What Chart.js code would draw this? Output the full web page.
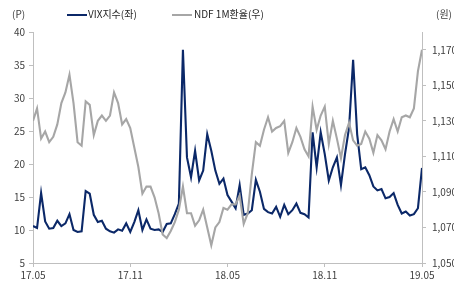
<!DOCTYPE html>
<html><head><meta charset="utf-8">
<script src="https://cdn.jsdelivr.net/npm/chart.js@4"></script>
<style>
html,body{margin:0;padding:0;background:#fff;}
#wrap{position:relative;width:454px;height:286px;font-family:"Noto Sans CJK KR","Noto Sans",sans-serif;color:#404040;}
canvas{position:absolute;left:0;top:0;}
.t{position:absolute;font-size:10px;line-height:12px;white-space:nowrap;}
.ln{position:absolute;height:2px;width:20px;}
</style></head><body>
<div id="wrap">
<canvas id="c" width="454" height="286"></canvas>
<div class="t" style="left:12px;top:8px;">(P)</div>
<div class="t" style="left:436px;top:8px;">(원)</div>
<div class="ln" style="left:67px;top:14px;background:#0b2868;"></div>
<div class="t" style="left:88px;top:8px;color:#262626;">VIX지수(좌)</div>
<div class="ln" style="left:172px;top:14px;background:#a6a6a6;"></div>
<div class="t" style="left:194px;top:8px;color:#262626;">NDF 1M환율(우)</div>
</div>
<script>
const tickLabels = ['17.05','17.11','18.05','18.11','19.05'];
const seriesNames = ['VIX지수(좌)','NDF 1M환율(우)'];
const vix = [10.6,10.3,15.6,11.3,10.2,10.3,11.4,10.6,11.0,12.4,10.0,9.7,9.8,15.9,15.5,12.3,11.2,11.4,10.2,9.8,
 9.6,10.1,9.9,11.0,9.7,11.2,13.0,10.0,11.6,10.2,10.0,10.1,9.7,10.9,11.0,12.4,14.0,37.3,21.0,18.0,
 22.0,17.5,19.0,24.5,22.0,19.0,17.0,17.8,15.3,14.3,13.3,16.8,12.3,12.5,13.0,17.6,15.8,13.2,12.7,12.5,
 13.5,12.0,13.8,12.4,13.0,14.0,12.6,12.4,11.9,24.8,19.5,24.8,21.5,17.5,19.5,21.0,16.8,21.5,25.5,35.8,
 24.5,19.2,19.5,18.3,16.6,16.0,16.2,14.8,15.0,15.6,13.8,12.5,12.8,12.2,12.4,13.3,19.4];
const ndf = [1130,1137,1120,1124,1118,1121,1128,1140,1146,1156,1140,1118,1116,1141,1139,1122,1130,1133,1130,1133,
 1146,1140,1128,1131,1126,1115,1104,1089,1093,1093,1087,1078,1066,1064,1068,1073,1080,1093,1078,1078,
 1071,1074,1080,1070,1060,1070,1073,1081,1080,1083,1083,1088,1072,1078,1100,1118,1116,1125,1132,1124,
 1126,1127,1130,1112,1118,1126,1121,1114,1110,1138,1125,1133,1138,1117,1130,1120,1109,1122,1129,1119,
 1116,1117,1124,1120,1112,1122,1119,1114,1124,1131,1124,1132,1133,1132,1137,1158,1170];
const tickPos = [0,24,48,72,96];
const leftTicks = [5,10,15,20,25,30,35,40];
const rightTicks = [1050,1070,1090,1110,1130,1150,1170];

const axisColor = '#bfbfbf';
const tickFont = {family:'"Noto Sans CJK KR","Noto Sans",sans-serif', size:10};
new Chart(document.getElementById('c'), {
  type:'line',
  data:{datasets:[
    {label:seriesNames[0], data:vix.map((v,i)=>({x:i,y:v})), yAxisID:'y', borderColor:'#0b2868', borderWidth:2.1, pointRadius:0, tension:0, order:1},
    {label:seriesNames[1], data:ndf.map((v,i)=>({x:i,y:v})), yAxisID:'y2', borderColor:'#a6a6a6', borderWidth:2.1, pointRadius:0, tension:0, order:0}
  ]},
  options:{
    responsive:false, animation:false,
    layout:{padding:{top:32,left:0,right:0,bottom:0}},
    plugins:{legend:{display:false}, tooltip:{enabled:false}},
    scales:{
      x:{type:'linear', min:0, max:96,
        afterBuildTicks:s=>{s.ticks=tickPos.map(v=>({value:v}));},
        afterFit:s=>{s.height=23;},
        ticks:{callback:(v)=>tickLabels[tickPos.indexOf(v)], color:'#404040', font:tickFont, padding:2, maxRotation:0, autoSkip:false},
        grid:{drawOnChartArea:false, drawTicks:true, tickLength:4, color:axisColor},
        border:{color:axisColor, width:1}},
      y:{position:'left', min:5, max:40,
        afterFit:s=>{s.width=33;},
        afterBuildTicks:s=>{s.ticks=leftTicks.map(v=>({value:v}));},
        ticks:{color:'#404040', font:tickFont, padding:4},
        grid:{drawOnChartArea:false, drawTicks:true, tickLength:4, color:axisColor},
        border:{color:axisColor, width:1}},
      y2:{position:'right', min:1050, max:1180,
        afterFit:s=>{s.width=32;},
        afterBuildTicks:s=>{s.ticks=rightTicks.map(v=>({value:v}));},
        ticks:{color:'#404040', font:tickFont, padding:6, callback:v=>v.toLocaleString('en-US')},
        grid:{drawOnChartArea:false, drawTicks:true, tickLength:4, color:axisColor},
        border:{color:axisColor, width:1}}
    }
  }
});
</script>
</body></html>
